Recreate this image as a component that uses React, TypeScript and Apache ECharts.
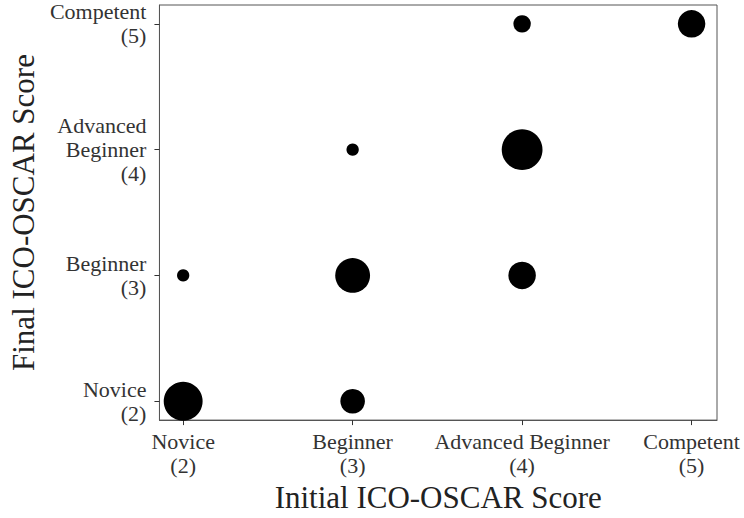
import React, { useEffect, useRef } from "react";
import * as echarts from "echarts";

const tickValues = [2, 3, 4, 5];
const xTickLabels = ["Novice\n(2)", "Beginner\n(3)", "Advanced Beginner\n(4)", "Competent\n(5)"];
const yTickLabels = ["Novice\n(2)", "Beginner\n(3)", "Advanced\nBeginner\n(4)", "Competent\n(5)"];
const initialScores = [2, 3, 2, 3, 4, 3, 4, 4, 5];
const finalScores = [2, 2, 3, 3, 3, 4, 4, 5, 5];
const counts = [10, 4, 1, 8, 5, 1, 11, 2, 5];

const FONT = "'Liberation Serif', 'Times New Roman', serif";

export default function App() {
  const ref = useRef<HTMLDivElement>(null);
  useEffect(() => {
    if (!ref.current) return;
    const chart = echarts.init(ref.current, undefined, { renderer: "svg" });
    const data = initialScores.map((x, i) => [x, finalScores[i], counts[i]]);
    const labelFor = (arr: string[]) => (v: number) => {
      const idx = tickValues.indexOf(Math.round(v));
      return idx >= 0 ? arr[idx] : "";
    };
    chart.setOption({
      animation: false,
      backgroundColor: "#fff",
      grid: {
        left: 157,
        top: 5,
        right: 27,
        bottom: 95,
        show: true,
        borderColor: "#555",
        borderWidth: 1,
      },
      xAxis: {
        type: "value",
        min: 1.86,
        max: 5.15,
        name: "Initial ICO-OSCAR Score",
        nameLocation: "middle",
        nameGap: 61,
        nameTextStyle: { fontFamily: FONT, fontSize: 31, color: "#222" },
        axisLine: { show: true, lineStyle: { color: "#555", width: 1 } },
        axisTick: { show: true, length: 5, customValues: tickValues, lineStyle: { color: "#333" } },
        axisLabel: {
          customValues: tickValues,
          formatter: labelFor(xTickLabels),
          fontFamily: FONT,
          fontSize: 22,
          lineHeight: 24,
          color: "#333",
          margin: 9,
        },
        splitLine: { show: false },
      },
      yAxis: {
        type: "value",
        min: 1.85,
        max: 5.15,
        name: "Final ICO-OSCAR Score",
        nameLocation: "middle",
        nameGap: 118,
        nameTextStyle: { fontFamily: FONT, fontSize: 31, color: "#222" },
        axisLine: { show: true, lineStyle: { color: "#555", width: 1 } },
        axisTick: { show: true, length: 5, customValues: tickValues, lineStyle: { color: "#333" } },
        axisLabel: {
          customValues: tickValues,
          formatter: labelFor(yTickLabels),
          fontFamily: FONT,
          fontSize: 22,
          lineHeight: 24,
          color: "#333",
          margin: 13,
          align: "right",
        },
        splitLine: { show: false },
      },
      series: [
        {
          type: "scatter",
          data,
          symbol: "circle",
          symbolSize: (val: number[]) => 12.3 * Math.sqrt(val[2]),
          itemStyle: { color: "#000", opacity: 1 },
        },
      ],
    });
    return () => chart.dispose();
  }, []);
  return (
    <div
      ref={ref}
      style={{ position: "fixed", left: 0, top: 0, width: 744, height: 518 }}
    />
  );
}
